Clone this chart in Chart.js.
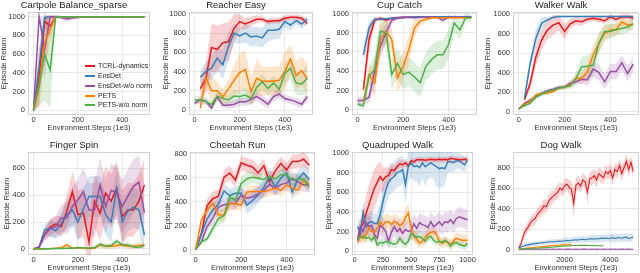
<!DOCTYPE html>
<html>
<head>
<meta charset="utf-8">
<script src="https://cdn.jsdelivr.net/npm/chart.js@4.4.0/dist/chart.umd.min.js"></script>
<style>
  html, body { margin: 0; padding: 0; background: #fff; }
  body { width: 640px; height: 273px; position: relative; overflow: hidden; font-family: "Liberation Sans", Arial, sans-serif; }
  .panel { position: absolute; }
  .leg-row { position: absolute; font-size: 7px; color: #262626; white-space: nowrap; height: 10px; line-height: 10px; }
  .leg-line { position: absolute; left: 0; top: 4px; width: 10px; height: 2px; }
  .leg-text { position: absolute; left: 13px; top: 0; }
</style>
</head>
<body>
<script>
// legend / colours
const methods = ['TCRL-dynamics', 'EnsDet', 'EnsDet-w/o norm', 'PETS', 'PETS-w/o norm'];
const colors = ['#e41a1c', '#377eb8', '#984ea3', '#ff7f00', '#4daf4a'];

// x positions (1e3 env steps)
const stepsA = [0, 25, 50, 75, 100, 125, 150, 175, 200, 225, 250, 275, 300, 325, 350, 375, 400, 425, 450, 475, 500];
const stepsQ = [0, 25, 50, 75, 100, 125, 150, 175, 200, 225, 250, 275, 300, 325, 350, 375, 400, 425, 450, 475, 500,
  525, 550, 575, 600, 625, 650, 675, 700, 725, 750, 775, 800, 825, 850, 875, 900, 925, 950, 975, 1000];
const stepsD = [0, 100, 200, 300, 400, 500, 600, 700, 800, 900, 1000, 1100, 1200, 1300, 1400, 1500, 1600, 1700, 1800, 1900,
  2000, 2100, 2200, 2300, 2400, 2500, 2600, 2700, 2800, 2900, 3000, 3100, 3200, 3300, 3400, 3500, 3600, 3700, 3800, 3900,
  4000, 4100, 4200, 4300, 4400, 4500, 4600, 4700, 4800, 4900, 5000];

// tick labels
const xTicks500 = [0, 200, 400];
const xTicksQuad = [0, 250, 500, 750, 1000];
const xTicksDog = [2000, 4000];
const yTicks1000 = [0, 200, 400, 600, 800, 1000];
const yTicks800 = [0, 200, 400, 600, 800];
const yTicks600 = [0, 200, 400, 600];

// Cartpole Balance_sparse
const cartpoleTcrl = [0, 350, 950, 900, 1000, 1000, 1000, 1000, 1000, 1000, 1000, 1000, 1000, 1000, 1000, 1000, 1000, 1000, 1000, 1000, 1000];
const cartpoleEnsDet = [0, 460, 990, 1000, 1000, 1000, 990, 1000, 1000, 1000, 1000, 1000, 1000, 1000, 1000, 1000, 1000, 1000, 1000, 1000, 1000];
const cartpoleEnsDetNN = [0, 1000, 650, 1000, 1000, 990, 975, 985, 990, 1000, 1000, 1000, 1000, 1000, 1000, 1000, 1000, 1000, 1000, 1000, 1000];
const cartpolePets = [0, 280, 720, 870, 1000, 1000, 1000, 1000, 1000, 1000, 1000, 1000, 1000, 1000, 1000, 1000, 1000, 1000, 1000, 1000, 1000];
const cartpolePetsNN = [0, 250, 600, 430, 1000, 1000, 1000, 1000, 1000, 1000, 1000, 1000, 1000, 1000, 1000, 1000, 1000, 1000, 1000, 1000, 1000];
const cartpoleTcrlBand = [0, 300, 60, 100, 10, 0, 0, 0, 0, 0, 0, 0, 0, 0, 0, 0, 0, 0, 0, 0, 0];
const cartpoleEnsDetBand = [0, 200, 30, 10, 10, 10, 10, 5, 0, 0, 0, 0, 0, 0, 0, 0, 0, 0, 0, 0, 0];
const cartpoleEnsDetNNBand = [0, 0, 350, 20, 20, 20, 30, 20, 10, 0, 0, 0, 0, 0, 0, 0, 0, 0, 0, 0, 0];
const cartpolePetsBand = [0, 250, 250, 150, 10, 0, 0, 0, 0, 0, 0, 0, 0, 0, 0, 0, 0, 0, 0, 0, 0];
const cartpolePetsNNBand = [0, 200, 500, 400, 10, 0, 0, 0, 0, 0, 0, 0, 0, 0, 0, 0, 0, 0, 0, 0, 0];

// Reacher Easy
const reacherTcrl = [null, 220, 330, 650, 630, 700, 710, 850, 920, 895, 920, 945, 945, 920, 930, 930, 955, 965, 965, 955, 900];
const reacherEnsDet = [null, 340, 400, 435, 540, 470, 660, 800, 770, 800, 760, 770, 750, 830, 830, 840, 920, 885, 930, 895, 945];
const reacherEnsDetNN = [70, 105, 90, 20, 140, 50, 50, 60, 85, 85, 110, 140, 105, 60, 140, 165, 120, 105, 85, 60, 140];
const reacherPets = [null, 20, 340, 200, 200, 135, 220, 310, 390, 420, 190, 330, 300, 300, 300, 310, 400, 530, 360, 410, 320];
const reacherPetsNN = [105, 105, 90, 55, 145, 120, 105, 145, 140, 155, 120, 235, 295, 225, 280, 215, 380, 435, 280, 270, 330];
const reacherTcrlBand = [0, 100, 150, 250, 250, 200, 200, 150, 80, 60, 50, 40, 30, 30, 30, 30, 30, 30, 30, 30, 40];
const reacherEnsDetBand = [0, 80, 100, 120, 120, 150, 150, 100, 80, 100, 100, 100, 100, 120, 100, 100, 60, 60, 40, 50, 40];
const reacherEnsDetNNBand = [20, 30, 30, 30, 30, 30, 40, 40, 40, 40, 50, 50, 50, 50, 50, 50, 40, 40, 40, 40, 50];
const reacherPetsBand = [0, 50, 100, 150, 100, 80, 100, 150, 200, 200, 150, 200, 150, 150, 150, 150, 200, 150, 150, 150, 150];
const reacherPetsNNBand = [40, 40, 40, 40, 60, 60, 60, 60, 60, 80, 60, 80, 80, 80, 80, 80, 100, 120, 120, 120, 150];

// Cup Catch
const cupTcrl = [null, 210, 730, 930, 950, 930, 950, 955, 960, 960, 960, 960, 960, 960, 960, 960, 960, 960, 960, 960, 960];
const cupEnsDet = [null, 570, 850, 940, 940, 945, 950, 955, 960, 960, 965, 965, 965, 960, 965, 965, 965, 965, 965, 965, 965];
const cupEnsDetNN = [95, 95, 130, 400, 660, 800, 930, 950, 955, 960, 955, 960, 960, 960, 960, 930, 960, 960, 960, 960, 960];
const cupPets = [null, 85, 365, 280, 730, 815, 730, 330, 450, 625, 850, 920, 940, 955, 955, 955, 955, 955, 955, 955, 955];
const cupPetsNN = [60, 40, 350, 415, 815, 800, 365, 480, 365, 390, 340, 280, 450, 520, 570, 570, 680, 900, 830, 955, 955];
const cupTcrlBand = [0, 80, 150, 30, 20, 20, 10, 10, 10, 10, 10, 10, 10, 10, 10, 10, 10, 10, 10, 10, 10];
const cupEnsDetBand = [0, 100, 80, 20, 10, 10, 10, 10, 10, 10, 10, 10, 10, 10, 10, 10, 10, 10, 10, 10, 10];
const cupEnsDetNNBand = [40, 40, 60, 150, 120, 100, 40, 20, 10, 10, 10, 10, 10, 10, 10, 30, 10, 10, 10, 10, 10];
const cupPetsBand = [0, 40, 100, 150, 150, 120, 120, 150, 150, 150, 100, 50, 30, 20, 10, 10, 10, 10, 10, 10, 10];
const cupPetsNNBand = [30, 30, 100, 150, 150, 150, 150, 150, 150, 150, 150, 150, 150, 150, 150, 150, 150, 100, 100, 50, 30];

// Walker Walk
const walkerTcrl = [null, 120, 290, 560, 735, 835, 885, 910, 820, 900, 930, 920, 945, 955, 945, 930, 970, 945, 970, 970, 955];
const walkerEnsDet = [null, 135, 495, 750, 905, 940, 965, 975, 975, 975, 975, 975, 975, 975, 975, 975, 975, 975, 975, 975, 975];
const walkerEnsDetNN = [27, 85, 120, 150, 185, 215, 230, 250, 250, 290, 305, 330, 325, 435, 400, 305, 410, 410, 500, 390, 485];
const walkerPets = [27, 70, 105, 170, 185, 190, 205, 240, 250, 275, 340, 340, 410, 580, 700, 800, 835, 840, 920, 885, 895];
const walkerPetsNN = [27, 60, 85, 150, 180, 205, 220, 240, 255, 265, 340, 460, 465, 475, 700, 820, 820, 840, 850, 865, 900];
const walkerTcrlBand = [0, 30, 60, 100, 100, 100, 100, 80, 80, 50, 40, 40, 30, 30, 30, 30, 30, 30, 30, 30, 30];
const walkerEnsDetBand = [0, 30, 60, 100, 60, 30, 20, 10, 10, 10, 10, 10, 10, 10, 10, 10, 10, 10, 10, 10, 10];
const walkerEnsDetNNBand = [10, 10, 15, 20, 20, 20, 20, 20, 20, 30, 30, 40, 60, 80, 80, 80, 80, 80, 80, 80, 80];
const walkerPetsBand = [10, 10, 15, 20, 20, 20, 20, 20, 20, 30, 40, 60, 80, 100, 100, 80, 60, 60, 50, 50, 50];
const walkerPetsNNBand = [10, 10, 15, 20, 20, 20, 20, 20, 20, 30, 60, 100, 120, 120, 100, 80, 80, 60, 60, 60, 50];

// Finger Spin
const fingerTcrl = [0, 15, 105, 165, 185, 165, 280, 425, 255, 265, 50, 355, 265, 415, 355, 450, 240, 290, 290, 355, 475];
const fingerEnsDet = [0, 15, 140, 155, 135, 190, 255, 290, 200, 300, 390, 390, 390, 255, 200, 450, 200, 280, 310, 290, 105];
const fingerEnsDetNN = [0, 10, 105, 150, 165, 230, 230, 315, 365, 425, 290, 290, 475, 315, 435, 415, 315, 390, 465, 495, 270];
const fingerPets = [0, 0, 2, 3, 5, 8, 30, 5, 10, 5, 5, 5, 30, 20, 20, 25, 30, 20, 20, 25, 30];
const fingerPetsNN = [0, 0, 0, 2, 3, 3, 5, 5, 8, 8, 5, 10, 35, 20, 25, 60, 30, 30, 15, 10, 25];
const fingerTcrlBand = [0, 10, 40, 60, 60, 80, 120, 150, 180, 180, 200, 200, 200, 200, 200, 200, 200, 200, 200, 200, 200];
const fingerEnsDetBand = [0, 10, 40, 60, 60, 80, 100, 120, 150, 150, 150, 150, 150, 150, 150, 150, 150, 150, 150, 150, 150];
const fingerEnsDetNNBand = [0, 10, 40, 60, 80, 100, 120, 150, 150, 180, 200, 200, 200, 200, 200, 200, 200, 200, 200, 200, 200];
const fingerPetsBand = [0, 0, 5, 5, 5, 10, 20, 10, 10, 10, 10, 10, 20, 20, 20, 20, 20, 20, 20, 20, 20];
const fingerPetsNNBand = [0, 0, 5, 5, 5, 5, 5, 5, 5, 5, 5, 10, 20, 15, 15, 20, 15, 15, 10, 10, 10];

// Cheetah Run
const cheetahTcrl = [0, 135, 365, 425, 445, 605, 640, 580, 725, 705, 690, 640, 700, 570, 655, 720, 665, 735, 735, 755, 705];
const cheetahEnsDet = [0, 125, 255, 330, 380, 490, 450, 470, 470, 370, 410, 455, 520, 610, 520, 600, 640, 480, 590, 640, 585];
const cheetahEnsDetNN = [0, 65, 190, 260, 355, 375, 385, 385, 455, 430, 440, 465, 495, 545, 510, 545, 555, 595, 565, 540, 540];
const cheetahPets = [0, 245, 330, 385, 290, 290, 385, 385, 370, 480, 485, 485, 485, 495, 515, 495, 540, 515, 495, 580, 545];
const cheetahPetsNN = [0, 65, 90, 175, 260, 285, 440, 410, 550, 590, 605, 595, 585, 610, 590, 625, 625, 580, 590, 585, 520];
const cheetahTcrlBand = [0, 30, 60, 60, 60, 60, 60, 60, 60, 60, 60, 60, 60, 60, 60, 60, 60, 60, 60, 60, 60];
const cheetahEnsDetBand = [0, 30, 50, 50, 60, 60, 60, 60, 60, 70, 70, 70, 70, 70, 70, 70, 70, 70, 70, 70, 70];
const cheetahEnsDetNNBand = [0, 20, 40, 50, 50, 50, 50, 50, 60, 60, 60, 60, 60, 60, 60, 60, 60, 60, 60, 60, 60];
const cheetahPetsBand = [0, 40, 50, 50, 50, 50, 50, 50, 50, 50, 50, 50, 50, 50, 50, 50, 50, 50, 50, 50, 50];
const cheetahPetsNNBand = [0, 20, 30, 40, 50, 60, 60, 60, 60, 60, 50, 50, 50, 50, 50, 50, 50, 50, 50, 50, 60];

// Quadruped Walk
const quadTcrl = [null, 100, 230, 280, 380, 470, 560, 640, 700, 760, 720, 760, 770, 830, 820, 860, 890, 880, 900, 870,
  920, 910, 930, 930, 930, 925, 930, 935, 930, 930, 935, 930, 935, 930, 945, 940, 935, 930, 930, 935, 930];
const quadEnsDet = [null, 250, 180, 390, 250, 290, 300, 280, 280, 370, 500, 620, 700, 740, 760, 800, 810, 830, 680, 860,
  900, 860, 870, 850, 900, 860, 880, 900, 880, 860, 840, 850, 840, 910, 910, 900, 920, 920, 900, 880, 930];
const quadEnsDetNN = [null, 120, 250, 200, 290, 250, 260, 170, 130, 260, 240, 200, 100, 190, 250, 200, 230, 180, 220, 200,
  210, 280, 230, 290, 270, 260, 240, 300, 250, 270, 300, 260, 300, 290, 320, 280, 330, 350, 340, 330, 320];
const quadPets = [null, 100, 150, 130, 160, 240, 200, 190, 240, 300, 260, 300, 300, 270, 300, 290, 260, 280, 340, 390,
  240, 150, 120, 80, 100, 140, 170, 190, 200, 170, 100, 80, 100, 90, 70, 100, 130, 120, 110, 110, 110];
const quadPetsNN = [null, 120, 140, 150, 130, 140, 110, 150, 60, 90, 80, 100, 90, 80, 70, 80, 130, 90, 70, 100,
  180, 160, 140, 150, 130, 100, 140, 150, 110, 90, 100, 90, 110, 90, 50, 80, 90, 70, 60, 50, 80];
const quadTcrlBand = [0, 60, 100, 150, 180, 200, 200, 200, 180, 150, 120, 100, 80, 60, 50, 50, 40, 40, 40, 30,
  30, 30, 30, 30, 30, 30, 30, 30, 30, 30, 30, 30, 30, 30, 30, 30, 30, 30, 30, 30, 30];
const quadEnsDetBand = [0, 100, 100, 120, 100, 100, 100, 100, 100, 120, 150, 150, 150, 150, 150, 150, 150, 150, 200, 150,
  150, 150, 150, 200, 150, 200, 150, 150, 150, 200, 200, 200, 150, 120, 100, 100, 80, 80, 80, 80, 60];
const quadEnsDetNNBand = [0, 60, 80, 80, 100, 100, 100, 80, 80, 100, 100, 100, 80, 100, 100, 100, 100, 100, 100, 100,
  100, 100, 100, 100, 100, 100, 100, 100, 100, 100, 100, 100, 100, 100, 100, 100, 100, 100, 100, 100, 100];
const quadPetsBand = [0, 50, 60, 60, 60, 80, 80, 80, 80, 80, 80, 80, 80, 80, 80, 80, 80, 80, 100, 100,
  80, 60, 60, 50, 50, 60, 60, 60, 60, 60, 50, 50, 50, 50, 50, 50, 60, 60, 60, 60, 60];
const quadPetsNNBand = [0, 40, 40, 40, 40, 40, 40, 40, 40, 40, 40, 40, 40, 40, 40, 40, 40, 40, 40, 40,
  60, 60, 60, 60, 60, 40, 40, 40, 40, 40, 40, 40, 40, 40, 40, 40, 40, 40, 40, 40, 40];

// Dog Walk
const dogTcrl = [20, 60, 140, 190, 220, 260, 290, 300, 340, 370, 390, 430, 420, 470, 500, 520, 540, 560, 600, 580,
  620, 640, 610, 590, 450, 630, 650, 620, 680, 660, 560, 690, 700, 720, 680, 740, 720, 700, 760, 740,
  770, 700, 780, 760, 820, 740, 800, 860, 780, 850, 760];
const dogEnsDet = [20, 30, 40, 45, 50, 55, 60, 62, 65, 68, 70, 72, 75, 78, 80, 80, 82, 85, 88, 85,
  90, 92, 90, 95, 98, 100, 98, 102, 105, 100, 105, 108, 110, 105, 112, 110, 115, 112, 118, 110,
  115, 120, 112, 118, 122, 115, 120, 125, 110, 120, 125];
const dogEnsDetNN = [5, 6, 6, 7, 7, 8, 8, 7, 8, 8, 8, 8, 9, 8, 8, 9, 8, 8, 9, 8,
  8, 9, 9, 8, 8, 9, 8, 8, 9, 9, 8, 8, 9, 8, 9, 8, 8, 9, 8, 8,
  9, 8, 9, 8, 8, 9, 8, 8, 9, 8, 8];
const dogPets = [10, 12, 14, 17, 20, 22, 24, 27, 29, 31, 34, 35, 38, 40, 41, 44, 45, 47, 48, 50, 50, 52, 53, 55];
const dogPetsNN = [10, 11, 12, 12, 14, 15, 16, 18, 18, 19, 21, 22, 24, 25, 28, 29, 31, 33, 35, 37,
  39, 40, 42, 42, 43, 44, 45, 46, 45, 46, 45, 44, 44, 43, 42, 42, 41, 40];
const dogTcrlBand = [10, 20, 40, 50, 50, 50, 60, 60, 60, 60, 60, 70, 60, 60, 70, 60, 60, 70, 60, 60,
  70, 60, 70, 80, 150, 60, 70, 60, 70, 60, 120, 60, 70, 60, 80, 60, 70, 60, 70, 60,
  70, 80, 60, 70, 60, 80, 60, 70, 80, 60, 80];
const dogEnsDetBand = [5, 10, 15, 15, 20, 20, 20, 20, 20, 20, 20, 20, 20, 25, 25, 25, 25, 25, 25, 25,
  30, 30, 30, 30, 30, 30, 30, 30, 30, 30, 30, 35, 35, 35, 35, 35, 35, 35, 35, 35,
  40, 40, 40, 40, 40, 40, 40, 40, 40, 40, 40];
const dogSmallBand = [3, 3, 4, 4, 5, 5, 5, 5, 5, 5, 5, 5, 5, 5, 5, 5, 5, 5, 5, 5,
  5, 5, 5, 5, 5, 5, 5, 5, 5, 5, 5, 5, 5, 5, 5, 5, 5, 5, 5, 5,
  5, 5, 5, 5, 5, 5, 5, 5, 5, 5, 5];

Chart.defaults.font.family = '"Liberation Sans", Arial, sans-serif';

const panels = [
  { title: 'Cartpole Balance_sparse', left: -2, top: 0, plotW: 122, rightPad: 1, yPad: 1.5, steps: stepsA,
    series: [cartpoleTcrl, cartpoleEnsDet, cartpoleEnsDetNN, cartpolePets, cartpolePetsNN],
    bands: [cartpoleTcrlBand, cartpoleEnsDetBand, cartpoleEnsDetNNBand, cartpolePetsBand, cartpolePetsNNBand],
    xRange: [-25, 525], yRange: [-50, 1050], xTicks: xTicks500, yTicks: yTicks1000 },
  { title: 'Reacher Easy', left: 159, top: 0, plotW: 124, rightPad: 1, yPad: 2.5, steps: stepsA,
    series: [reacherTcrl, reacherEnsDet, reacherEnsDetNN, reacherPets, reacherPetsNN],
    bands: [reacherTcrlBand, reacherEnsDetBand, reacherEnsDetNNBand, reacherPetsBand, reacherPetsNNBand],
    xRange: [-25, 525], yRange: [-52, 1020], xTicks: xTicks500, yTicks: yTicks1000 },
  { title: 'Cup Catch', left: 322, top: 0, plotW: 125, rightPad: 1, yPad: 1.8, steps: stepsA,
    series: [cupTcrl, cupEnsDet, cupEnsDetNN, cupPets, cupPetsNN],
    bands: [cupTcrlBand, cupEnsDetBand, cupEnsDetNNBand, cupPetsBand, cupPetsNNBand],
    xRange: [-25, 525], yRange: [-55, 1015], xTicks: xTicks500, yTicks: yTicks1000 },
  { title: 'Walker Walk', left: 483, top: 0, plotW: 126, rightPad: 1, yPad: 0.5, steps: stepsA,
    series: [walkerTcrl, walkerEnsDet, walkerEnsDetNN, walkerPets, walkerPetsNN],
    bands: [walkerTcrlBand, walkerEnsDetBand, walkerEnsDetNNBand, walkerPetsBand, walkerPetsNNBand],
    xRange: [-25, 525], yRange: [-35, 1020], xTicks: xTicks500, yTicks: yTicks1000 },
  { title: 'Finger Spin', left: -2, top: 140, plotW: 122, rightPad: 1, yPad: 4.8, steps: stepsA,
    series: [fingerTcrl, fingerEnsDet, fingerEnsDetNN, fingerPets, fingerPetsNN],
    bands: [fingerTcrlBand, fingerEnsDetBand, fingerEnsDetNNBand, fingerPetsBand, fingerPetsNNBand],
    xRange: [-25, 525], yRange: [-45, 720], xTicks: xTicks500, yTicks: yTicks600 },
  { title: 'Cheetah Run', left: 160, top: 140, plotW: 125, rightPad: 1, yPad: 3.8, steps: stepsA,
    series: [cheetahTcrl, cheetahEnsDet, cheetahEnsDetNN, cheetahPets, cheetahPetsNN],
    bands: [cheetahTcrlBand, cheetahEnsDetBand, cheetahEnsDetNNBand, cheetahPetsBand, cheetahPetsNNBand],
    xRange: [-25, 525], yRange: [-45, 815], xTicks: xTicks500, yTicks: yTicks800 },
  { title: 'Quadruped Walk', left: 322, top: 140, plotW: 121, rightPad: 4, yPad: 2.5, steps: stepsQ,
    series: [quadTcrl, quadEnsDet, quadEnsDetNN, quadPets, quadPetsNN],
    bands: [quadTcrlBand, quadEnsDetBand, quadEnsDetNNBand, quadPetsBand, quadPetsNNBand],
    xRange: [-24, 1049], yRange: [-40, 1010], xTicks: xTicksQuad, yTicks: yTicks1000 },
  { title: 'Dog Walk', left: 483, top: 140, plotW: 126, rightPad: 1, yPad: 5.5, steps: stepsD, thin: true,
    series: [dogTcrl, dogEnsDet, dogEnsDetNN, dogPets, dogPetsNN],
    bands: [dogTcrlBand, dogEnsDetBand, dogSmallBand, dogSmallBand, dogSmallBand],
    xRange: [-250, 5250], yRange: [-48, 950], xTicks: xTicksDog, yTicks: yTicks800 }
];

function fade(hex, a) {
  const n = parseInt(hex.slice(1), 16);
  return `rgba(${n >> 16}, ${(n >> 8) & 255}, ${n & 255}, ${a})`;
}

// light spine around the plotting area
const frame = {
  id: 'frame',
  beforeDatasetsDraw(chart) {
    const { ctx, chartArea: a } = chart;
    ctx.save();
    ctx.strokeStyle = '#d2d2d2';
    ctx.lineWidth = 1;
    ctx.strokeRect(Math.round(a.left) + 0.5, Math.round(a.top) + 0.5, Math.round(a.width) - 1, Math.round(a.height) - 1);
    ctx.restore();
  }
};

const Y_AXIS_W = 30;
const X_AXIS_H = 18;
const CANVAS_H = 133;

function buildPanel(p) {
  const width = Y_AXIS_W + p.plotW + p.rightPad;
  const holder = document.createElement('div');
  holder.className = 'panel';
  holder.style.left = p.left + 'px';
  holder.style.top = p.top + 'px';
  const canvas = document.createElement('canvas');
  canvas.width = width;
  canvas.height = CANVAS_H;
  canvas.style.width = width + 'px';
  canvas.style.height = CANVAS_H + 'px';
  holder.appendChild(canvas);
  document.body.appendChild(holder);

  const bandSets = [];
  const lineSets = [];
  p.series.forEach((vals, i) => {
    const band = p.bands[i];
    const hi = [], lo = [], mid = [];
    vals.forEach((v, k) => {
      if (v == null) return;
      const b = band[k] || 0;
      mid.push({ x: p.steps[k], y: v });
      hi.push({ x: p.steps[k], y: v + b });
      lo.push({ x: p.steps[k], y: v - b });
    });
    bandSets.push({ data: hi, borderWidth: 0, pointRadius: 0, backgroundColor: fade(colors[i], 0.2), fill: '+1', order: 20 + i });
    bandSets.push({ data: lo, borderWidth: 0, pointRadius: 0, backgroundColor: 'rgba(0,0,0,0)', fill: false, order: 20 + i });
    // matplotlib draws later series on top: green last
    lineSets.push({ label: methods[i], data: mid, borderColor: colors[i], borderWidth: p.thin ? 1.1 : 1.5,
      pointRadius: 0, fill: false, order: 10 - i });
  });

  const tickFont = { size: 7.5 };
  new Chart(canvas, {
    type: 'line',
    data: { datasets: bandSets.concat(lineSets) },
    options: {
      responsive: false,
      animation: false,
      devicePixelRatio: 1,
      layout: { padding: { left: 0, right: p.rightPad, top: 0, bottom: 0 } },
      elements: { line: { tension: 0 } },
      plugins: {
        legend: { display: false },
        tooltip: { enabled: false },
        title: { display: true, text: p.title, color: '#262626',
          font: { size: 9.5, weight: 'normal' }, padding: { top: 0, bottom: 0.6 } }
      },
      scales: {
        x: {
          type: 'linear', min: p.xRange[0], max: p.xRange[1],
          afterBuildTicks: s => { s.ticks = p.xTicks.map(v => ({ value: v })); },
          afterFit: s => { s.height = X_AXIS_H; },
          grid: { color: '#e3e3e3', lineWidth: 0.8, drawTicks: false },
          border: { display: false },
          ticks: { font: tickFont, color: '#333', padding: 0, maxRotation: 0, autoSkip: false, callback: v => String(v) },
          title: { display: true, text: 'Environment Steps (1e3)', color: '#333', font: tickFont, padding: { top: 0, bottom: 0.5 } }
        },
        y: {
          type: 'linear', min: p.yRange[0], max: p.yRange[1],
          afterBuildTicks: s => { s.ticks = p.yTicks.map(v => ({ value: v })); },
          afterFit: s => { s.width = Y_AXIS_W; },
          grid: { color: '#e3e3e3', lineWidth: 0.8, drawTicks: false },
          border: { display: false },
          ticks: { font: tickFont, color: '#333', padding: 3, autoSkip: false, callback: v => String(v) },
          title: { display: true, text: 'Episode Return', color: '#333', font: tickFont, padding: { top: p.yPad, bottom: 0 } }
        }
      }
    },
    plugins: [frame]
  });
}

panels.forEach(buildPanel);

// legend inside the first panel, lower right
const legendTops = [61, 71, 81, 91, 100];
methods.forEach((m, i) => {
  const row = document.createElement('div');
  row.className = 'leg-row';
  row.style.left = '85px';
  row.style.top = legendTops[i] + 'px';
  const line = document.createElement('span');
  line.className = 'leg-line';
  line.style.background = colors[i];
  const text = document.createElement('span');
  text.className = 'leg-text';
  text.textContent = m;
  row.appendChild(line);
  row.appendChild(text);
  document.body.appendChild(row);
});
</script>
</body>
</html>
